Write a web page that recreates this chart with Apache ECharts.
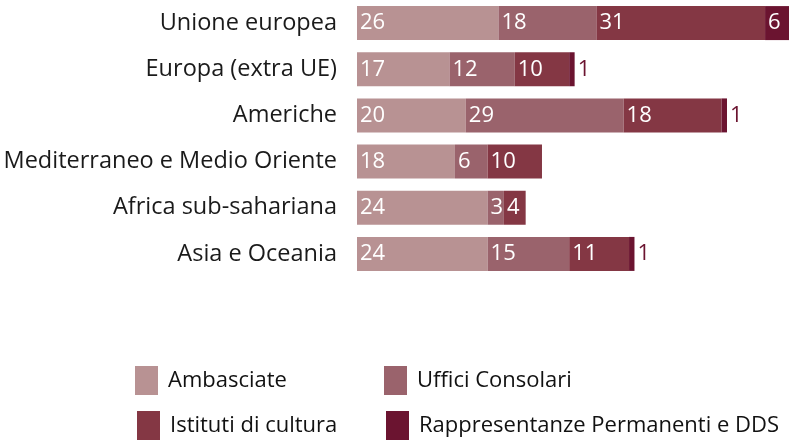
<!DOCTYPE html>
<html><head><meta charset="utf-8">
<script src="https://cdn.jsdelivr.net/npm/echarts@6/dist/echarts.min.js"></script>
<style>html,body{margin:0;padding:0;background:#fff}#c{width:789px;height:441px}</style>
</head><body><div id="c"></div>
<script>
const categories = ["Unione europea","Europa (extra UE)","Americhe","Mediterraneo e Medio Oriente","Africa sub-sahariana","Asia e Oceania"];
const seriesNames = ["Ambasciate","Uffici Consolari","Istituti di cultura","Rappresentanze Permanenti e DDS"];
const ambasciate = [26,17,20,18,24,24];
const ufficiConsolari = [18,12,29,6,3,15];
const istituti = [31,10,18,10,4,11];
const rappresentanze = [6,1,1,0,0,1];
const colors = ["#b89293","#9a636c","#843744","#6b1430"];

const FONT = "Open Sans";
const allData = [ambasciate, ufficiConsolari, istituti, rappresentanze];
const series = allData.map((arr, i) => ({
  name: seriesNames[i],
  type: 'bar',
  stack: 'tot',
  barWidth: 34,
  clip: true,
  itemStyle: {color: colors[i]},
  label: {show: true, position: 'insideLeft', distance: 3, color: '#fff', fontSize: 22, fontFamily: FONT},
  data: arr.map(v => {
    if (v === 0) return {value: 0, label: {show: false}};
    if (i === 3 && v <= 1) return {value: v, label: {show: true, position: 'right', distance: 3, color: colors[3]}};
    return v;
  })
}));

const legendPos = [[130, 361], [379, 361], [132, 406], [381, 406]];
const legends = seriesNames.map((n, i) => ({
  left: legendPos[i][0], top: legendPos[i][1], itemWidth: 23, itemHeight: 29, icon: 'rect',
  data: [n], textStyle: {fontSize: 22, color: '#111', fontFamily: FONT, padding: [0, 0, 0, 5]}
}));

const chart = echarts.init(document.getElementById('c'), null, {renderer: 'canvas'});
chart.setOption({
  animation: false,
  grid: {left: 357, top: -1, right: 0, height: 278, containLabel: false},
  xAxis: {type: 'value', min: 0, max: 79.4, show: false},
  yAxis: {type: 'category', data: categories, inverse: true,
    axisLine: {show: false}, axisTick: {show: false},
    axisLabel: {margin: 20, fontSize: 23.5, color: '#1a1a1a', fontFamily: FONT}},
  legend: legends,
  series: series
});
</script></body></html>
